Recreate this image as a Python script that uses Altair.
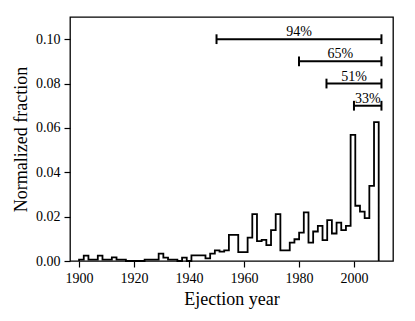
import altair as alt
import numpy as np
import pandas as pd

# Histogram: 64 equal bins between 1900 and 2009
bin_first = 1900.0
bin_last = 2009.0
n_bins = 64
fractions = [
    0.0006, 0.0024, 0.0006, 0.0006, 0.0024, 0.0006, 0.0006, 0.0016,
    0.0006, 0.0006, 0.0, 0.0, 0.0, 0.0, 0.0006, 0.0006,
    0.0006, 0.0033, 0.0015, 0.0006, 0.0006, 0.0, 0.0015, 0.0,
    0.0025, 0.0025, 0.0025, 0.0012, 0.0033, 0.0048, 0.0042, 0.0048,
    0.0118, 0.0118, 0.0040, 0.0040, 0.0105, 0.0211, 0.0090, 0.0095,
    0.0072, 0.0139, 0.0211, 0.0048, 0.0048, 0.0083, 0.0098, 0.0128,
    0.0219, 0.0083, 0.0133, 0.0158, 0.0094, 0.0184, 0.0124, 0.0173,
    0.0139, 0.0158, 0.0569, 0.0249, 0.0223, 0.0193, 0.0339, 0.0626,
]

# Annotation brackets
ann_start = [1950, 1980, 1990, 2000]
ann_end = [2010, 2010, 2010, 2010]
ann_level = [0.10, 0.09, 0.08, 0.07]
ann_label = ["94%", "65%", "51%", "33%"]

x_ticks = [1900, 1920, 1940, 1960, 1980, 2000]
y_ticks = [0.0, 0.02, 0.04, 0.06, 0.08, 0.10]

FONT = "Liberation Serif"

edges = np.linspace(bin_first, bin_last, n_bins + 1)
vx, vy = [edges[0]], [0.0]
for i, v in enumerate(fractions):
    vx += [edges[i], edges[i + 1]]
    vy += [v, v]
vx.append(edges[-1])
vy.append(0.0)
hist_df = pd.DataFrame({"year": vx, "frac": vy, "order": range(len(vx))})

ann_df = pd.DataFrame({
    "start": ann_start, "end": ann_end, "level": ann_level, "label": ann_label,
})
ann_df["mid"] = (ann_df["start"] + ann_df["end"]) / 2
cap_half = 0.0022
caps = pd.DataFrame({
    "x": ann_start + ann_end,
    "lo": [l - cap_half for l in ann_level] * 2,
    "hi": [l + cap_half for l in ann_level] * 2,
})

xs = alt.Scale(domain=[1896.7, 2014.2], nice=False, zero=False)
ys = alt.Scale(domain=[0, 0.11], nice=False)

hist = alt.Chart(hist_df).mark_line(color="black", strokeWidth=1.8, strokeJoin="miter").encode(
    x=alt.X("year:Q", scale=xs,
            axis=alt.Axis(title="Ejection year", values=x_ticks, format="d", grid=False,
                          domain=False, ticks=True, tickSize=6, tickColor="black",
                          labelFont=FONT, labelFontSize=14, labelColor="black",
                          labelPadding=4, titleFont=FONT, titleFontSize=18,
                          titleFontWeight="normal", titleColor="black", titlePadding=5)),
    y=alt.Y("frac:Q", scale=ys,
            axis=alt.Axis(title="Normalized fraction", values=y_ticks, format=".2f", grid=False,
                          domain=False, ticks=True, tickSize=6, tickColor="black",
                          labelFont=FONT, labelFontSize=14, labelColor="black",
                          labelPadding=4, titleFont=FONT, titleFontSize=18,
                          titleFontWeight="normal", titleColor="black", titlePadding=5)),
    order="order:Q",
)

bars = alt.Chart(ann_df).mark_rule(color="black", strokeWidth=2).encode(
    x=alt.X("start:Q", scale=xs), x2="end:Q", y=alt.Y("level:Q", scale=ys),
)
cap_rules = alt.Chart(caps).mark_rule(color="black", strokeWidth=2).encode(
    x=alt.X("x:Q", scale=xs), y=alt.Y("lo:Q", scale=ys), y2="hi:Q",
)
labels = alt.Chart(ann_df).mark_text(font=FONT, fontSize=14, color="black",
                                      baseline="alphabetic", dy=-3).encode(
    x=alt.X("mid:Q", scale=xs), y=alt.Y("level:Q", scale=ys), text="label:N",
)

chart = alt.layer(hist, bars, cap_rules, labels).properties(
    width=323, height=244,
    autosize=alt.AutoSizeParams(type="none"),
    padding={"left": 62, "top": 9, "right": 10, "bottom": 55},
).configure_view(stroke="black", strokeWidth=1.3).configure_axis(tickWidth=1.2)

chart.save("out.html", embed_options={"renderer": "svg", "actions": False})
